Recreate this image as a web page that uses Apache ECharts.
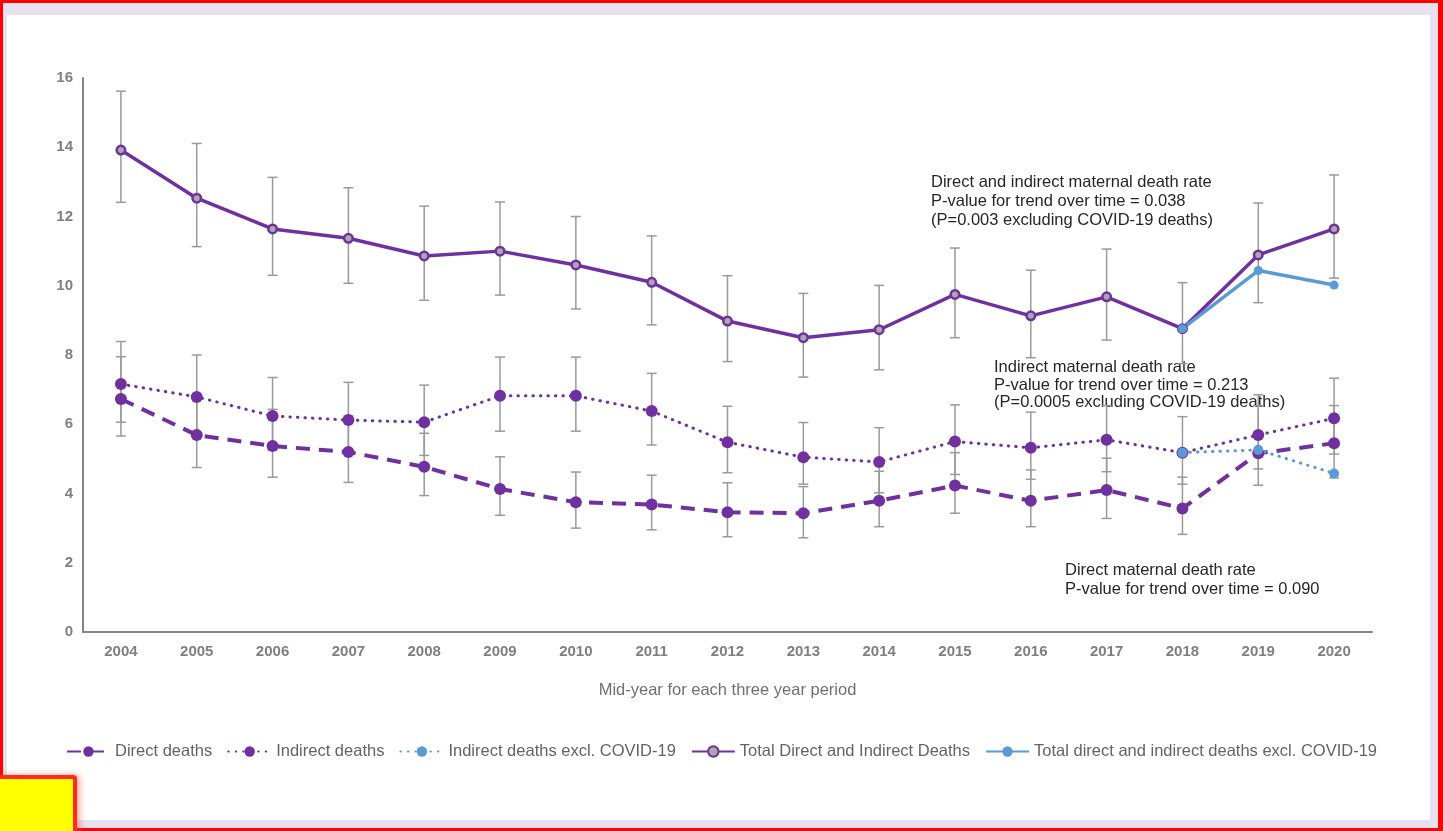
<!DOCTYPE html>
<html>
<head>
<meta charset="utf-8">
<script src="https://cdn.jsdelivr.net/npm/echarts@6/dist/echarts.min.js"></script>
<style>
  html, body { margin: 0; padding: 0; width: 1443px; height: 831px; overflow: hidden; background: #ff0000; }
  #frame { position: absolute; left: 3px; top: 3px; width: 1435px; height: 825px; background: #e7e0ef; }
  #panel { position: absolute; left: 7px; top: 15px; width: 1423px; height: 805px; background: #ffffff; }
  #chart { position: absolute; left: 0; top: 0; width: 1443px; height: 831px; }
  #tag { position: absolute; left: -4px; top: 775px; width: 73px; height: 60px; background: #ffff00;
         border: 4px solid #ff2a1c; border-radius: 4px; box-shadow: 3px 0 6px rgba(255,60,40,0.45); z-index: 5; }
</style>
</head>
<body>
<div id="frame"></div>
<div id="panel"></div>
<div id="chart"></div>
<div id="tag"></div>
<script>
// Maternal death rates per 100,000 maternities, mid-year of each three-year period
const years = ['2004','2005','2006','2007','2008','2009','2010','2011','2012','2013','2014','2015','2016','2017','2018','2019','2020'];

const directRate  = [6.73, 5.69, 5.37, 5.20, 4.77, 4.13, 3.75, 3.68, 3.46, 3.43, 3.79, 4.23, 3.79, 4.10, 3.57, 5.16, 5.45];
const directLow   = [5.66, 4.75, 4.47, 4.32, 3.94, 3.37, 3.00, 2.95, 2.75, 2.72, 3.04, 3.43, 3.04, 3.28, 2.82, 4.24, 4.45];
const directHigh  = [7.95, 6.76, 6.43, 6.24, 5.74, 5.06, 4.62, 4.53, 4.31, 4.20, 4.64, 5.18, 4.68, 5.02, 4.47, 6.54, 6.54];

const indirectRate = [7.16, 6.79, 6.24, 6.12, 6.06, 6.82, 6.82, 6.38, 5.48, 5.05, 4.91, 5.50, 5.32, 5.55, 5.18, 5.69, 6.17];
const indirectLow  = [6.06, 5.75, 5.26, 5.15, 5.10, 5.80, 5.80, 5.40, 4.60, 4.27, 4.02, 4.55, 4.41, 4.63, 4.27, 4.71, 5.14];
const indirectHigh = [8.39, 8.00, 7.35, 7.21, 7.13, 7.94, 7.94, 7.47, 6.52, 6.05, 5.90, 6.56, 6.35, 6.54, 6.22, 6.85, 7.33];

const indirectExclCovid = [null, null, null, null, null, null, null, null, null, null, null, null, null, null, 5.18, 5.26, 4.58];

const totalRate = [13.92, 12.53, 11.64, 11.37, 10.86, 11.00, 10.60, 10.10, 8.98, 8.50, 8.73, 9.75, 9.13, 9.68, 8.76, 10.89, 11.64];
const totalLow  = [12.41, 11.13, 10.30, 10.07, 9.58, 9.73, 9.33, 8.87, 7.81, 7.36, 7.57, 8.50, 7.92, 8.43, 7.75, 9.51, 10.22];
const totalHigh = [15.62, 14.11, 13.13, 12.83, 12.30, 12.42, 12.00, 11.44, 10.29, 9.78, 10.01, 11.09, 10.45, 11.06, 10.09, 12.39, 13.20];

const totalExclCovid = [null, null, null, null, null, null, null, null, null, null, null, null, null, null, 8.76, 10.44, 10.02];

const seriesNames = [
  'Direct deaths',
  'Indirect deaths',
  'Indirect deaths excl. COVID-19',
  'Total Direct and Indirect Deaths',
  'Total direct and indirect deaths excl. COVID-19'
];

const noteTotal = ['Direct and indirect maternal death rate', 'P-value for trend over time = 0.038', '(P=0.003 excluding COVID-19 deaths)'];
const noteIndirect = ['Indirect maternal death rate', 'P-value for trend over time = 0.213', '(P=0.0005 excluding COVID-19 deaths)'];
const noteDirect = ['Direct maternal death rate', 'P-value for trend over time = 0.090'];

const PURPLE = '#7030a0';
const BLUE = '#5b9bd5';
const FONT = '"Liberation Sans", Arial, sans-serif';

// Confidence interval whiskers, drawn through the category axis and value axis
function ciData(low, high) {
  return low.map((l, i) => [i, l, high[i]]);
}
function renderWhisker(params, api) {
  const x = api.value(0);
  const lo = api.coord([x, api.value(1)]);
  const hi = api.coord([x, api.value(2)]);
  const cap = 5;
  const style = { stroke: '#9a9a9a', lineWidth: 1.5, fill: null };
  return {
    type: 'group',
    children: [
      { type: 'line', shape: { x1: lo[0], y1: lo[1], x2: hi[0], y2: hi[1] }, style },
      { type: 'line', shape: { x1: lo[0] - cap, y1: lo[1], x2: lo[0] + cap, y2: lo[1] }, style },
      { type: 'line', shape: { x1: hi[0] - cap, y1: hi[1], x2: hi[0] + cap, y2: hi[1] }, style }
    ]
  };
}
function whiskers(low, high) {
  return {
    type: 'custom', renderItem: renderWhisker, data: ciData(low, high),
    encode: { x: 0, y: [1, 2] }, z: 1, silent: true, legendHoverLink: false
  };
}

const chart = echarts.init(document.getElementById('chart'), null, { renderer: 'canvas' });

const noteStyle = { fontSize: 16.5, fontFamily: FONT, fill: '#262626' };

chart.setOption({
  animation: false,
  backgroundColor: 'transparent',
  textStyle: { fontFamily: FONT },
  grid: { left: 83, top: 78, right: 71, bottom: 199, containLabel: false },
  xAxis: {
    type: 'category',
    data: years,
    boundaryGap: true,
    axisLine: { show: true, lineStyle: { color: '#868686', width: 2 } },
    axisTick: { show: false },
    axisLabel: { color: '#7f7f7f', fontWeight: 'bold', fontSize: 15, margin: 12 },
    name: 'Mid-year for each three year period',
    nameLocation: 'middle',
    nameGap: 50,
    nameTextStyle: { color: '#6f6f6f', fontSize: 16.5 }
  },
  yAxis: {
    type: 'value',
    min: 0, max: 16, interval: 2,
    axisLine: { show: true, lineStyle: { color: '#868686', width: 2 } },
    axisTick: { show: false },
    splitLine: { show: false },
    axisLabel: { color: '#7f7f7f', fontWeight: 'bold', fontSize: 15, margin: 10 }
  },
  legend: {
    data: seriesNames,
    left: 'center',
    top: 738,
    itemGap: 15,
    itemWidth: 43,
    itemHeight: 13,
    textStyle: { color: '#636363', fontSize: 16.5, fontFamily: FONT },
    selectedMode: false
  },
  graphic: [
    { type: 'text', left: 931, top: 173, z: 1, style: Object.assign({ text: noteTotal.join('\n'), lineHeight: 19 }, noteStyle) },
    { type: 'text', left: 994, top: 359, z: 1, style: Object.assign({ text: noteIndirect.join('\n'), lineHeight: 17.5 }, noteStyle) },
    { type: 'text', left: 1065, top: 561, z: 1, style: Object.assign({ text: noteDirect.join('\n'), lineHeight: 19 }, noteStyle) }
  ],
  series: [
    whiskers(directLow, directHigh),
    whiskers(indirectLow, indirectHigh),
    whiskers(totalLow, totalHigh),
    {
      name: seriesNames[0], type: 'line', data: directRate, z: 2,
      symbol: 'circle', symbolSize: 12, showAllSymbol: true,
      itemStyle: { color: PURPLE },
      lineStyle: { color: PURPLE, width: 4, type: [14, 9] }
    },
    {
      name: seriesNames[1], type: 'line', data: indirectRate, z: 2,
      symbol: 'circle', symbolSize: 12, showAllSymbol: true,
      itemStyle: { color: PURPLE },
      lineStyle: { color: PURPLE, width: 3, type: [0.5, 7], cap: 'round' }
    },
    {
      name: seriesNames[2], type: 'line', data: indirectExclCovid, z: 2,
      symbol: 'circle', symbolSize: 10, showAllSymbol: true,
      itemStyle: { color: BLUE },
      lineStyle: { color: BLUE, width: 3, type: [0.5, 7], cap: 'round' }
    },
    {
      name: seriesNames[3], type: 'line', data: totalRate, z: 2,
      symbol: 'circle', symbolSize: 8.5, showAllSymbol: true,
      itemStyle: { color: '#a9a9a9', borderColor: PURPLE, borderWidth: 2.5 },
      lineStyle: { color: PURPLE, width: 3.5 }
    },
    {
      name: seriesNames[4], type: 'line', data: totalExclCovid, z: 2,
      symbol: 'circle', symbolSize: 9, showAllSymbol: true,
      itemStyle: { color: BLUE },
      lineStyle: { color: BLUE, width: 3.5 }
    }
  ]
});
</script>
</body>
</html>
